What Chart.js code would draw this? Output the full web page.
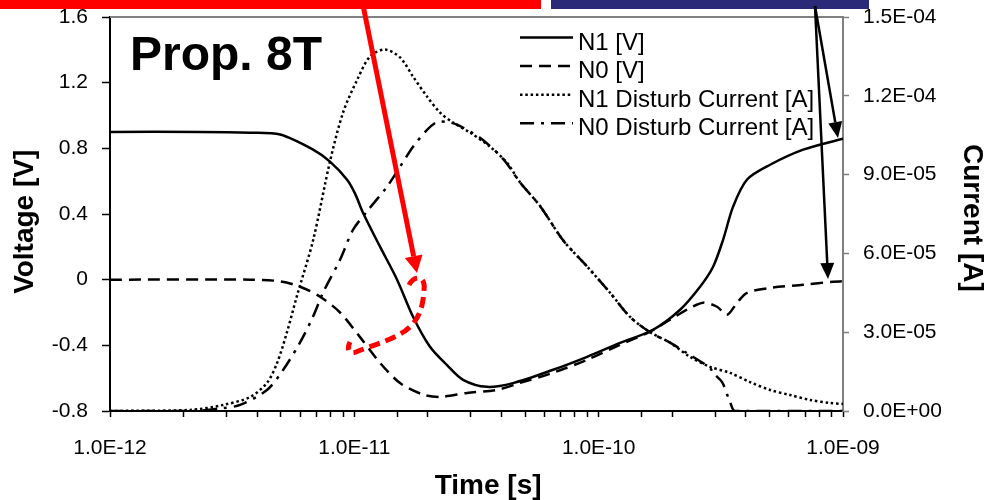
<!DOCTYPE html>
<html>
<head>
<meta charset="utf-8">
<script src="https://cdn.jsdelivr.net/npm/chart.js@4.4.1/dist/chart.umd.min.js"></script>
<style>
  html, body { margin: 0; padding: 0; background: #fff; }
  canvas { display: block; }
</style>
</head>
<body>
<canvas id="chart" width="986" height="500"></canvas>
<script>
// ---- data ----
const seriesLabels = ['N1 [V]', 'N0 [V]', 'N1 Disturb Current [A]', 'N0 Disturb Current [A]'];

const n1Time = [1e-12, 2.34e-12, 3.74e-12, 4.97e-12, 6.78e-12, 7.95e-12, 9.34e-12, 1.007e-11, 1.085e-11, 1.274e-11, 1.496e-11,
  1.739e-11, 2.04e-11, 2.396e-11, 2.786e-11, 3.49e-11, 4.46e-11, 6.51e-11, 8.97e-11, 1.224e-10, 1.67e-10,
  2.154e-10, 2.6e-10, 2.94e-10, 3.23e-10, 3.55e-10, 4.05e-10, 5.03e-10, 6.87e-10, 1e-9];
const n1Volt = [0.90, 0.90, 0.895, 0.884, 0.792, 0.719, 0.609, 0.524, 0.408, 0.201, 0.0,
  -0.226, -0.409, -0.521, -0.61, -0.653, -0.63, -0.549, -0.47, -0.385, -0.305,
  -0.183, -0.043, 0.079, 0.243, 0.445, 0.61, 0.70, 0.792, 0.859];

const n0Time = [1e-12, 3.74e-12, 4.97e-12, 6.0e-12, 7.24e-12, 8.74e-12, 1.055e-11, 1.274e-11, 1.539e-11, 1.911e-11,
  2.243e-11, 2.893e-11, 3.838e-11, 4.77e-11, 6.51e-11, 8.97e-11, 1.224e-10, 1.623e-10, 1.96e-10, 2.3e-10,
  2.676e-10, 3.052e-10, 3.354e-10, 3.686e-10, 4.05e-10, 5.03e-10, 6.87e-10, 9.11e-10, 1e-9];
const n0Volt = [0, 0, -0.01, -0.043, -0.104, -0.20, -0.35, -0.507, -0.63, -0.70,
  -0.714, -0.69, -0.671, -0.629, -0.567, -0.488, -0.397, -0.317, -0.244, -0.183,
  -0.14, -0.165, -0.214, -0.14, -0.08, -0.05, -0.031, -0.012, -0.01];

const n1CurTime = [1e-12, 2.13e-12, 2.9e-12, 3.74e-12, 4.39e-12, 4.83e-12, 5.3e-12, 5.83e-12, 6.78e-12, 7.95e-12,
  8.99e-12, 1.026e-11, 1.16e-11, 1.336e-11, 1.539e-11, 1.739e-11, 1.984e-11, 2.243e-11, 2.535e-11, 2.976e-11,
  3.594e-11, 4.217e-11, 4.77e-11, 5.76e-11, 7.15e-11, 8.97e-11, 1.114e-10, 1.345e-10, 1.623e-10, 1.96e-10,
  2.366e-10, 2.858e-10, 3.45e-10, 4.166e-10, 5.03e-10, 6.07e-10, 7.33e-10, 8.86e-10, 1e-9];
const n1Cur = [0, 0.4e-6, 2.3e-6, 5.3e-6, 1.07e-5, 1.83e-5, 3.0e-5, 4.4e-5, 6.5e-5, 9.5e-5,
  1.136e-4, 1.26e-4, 1.35e-4, 1.376e-4, 1.346e-4, 1.273e-4, 1.197e-4, 1.136e-4, 1.098e-4, 1.06e-4,
  1.006e-4, 9.45e-5, 8.7e-5, 7.8e-5, 6.5e-5, 5.5e-5, 4.5e-5, 3.58e-5, 3.0e-5, 2.6e-5,
  2.06e-5, 1.68e-5, 1.45e-5, 1.1e-5, 8.0e-6, 6.1e-6, 4.2e-6, 3.05e-6, 2.7e-6];

const n0CurTime = [1e-12, 2.2e-12, 2.9e-12, 3.405e-12, 4.39e-12, 5.11e-12, 5.99e-12, 6.78e-12, 7.44e-12, 8.74e-12,
  9.88e-12, 1.127e-11, 1.361e-11, 1.539e-11, 1.739e-11, 1.984e-11, 2.18e-11, 2.396e-11, 2.633e-11, 3.27e-11,
  4.06e-11, 4.77e-11, 5.76e-11, 7.15e-11, 8.97e-11, 1.114e-10, 1.345e-10, 1.623e-10, 1.96e-10, 2.3e-10,
  2.858e-10, 2.94e-10, 3.2e-10, 3.386e-10, 3.45e-10, 3.617e-10, 1e-9];
const n0Cur = [0, 0, 1.1e-6, 2.3e-6, 8.0e-6, 1.56e-5, 2.6e-5, 3.6e-5, 4.5e-5, 5.76e-5,
  6.9e-5, 7.6e-5, 8.54e-5, 9.3e-5, 1.006e-4, 1.07e-4, 1.1e-4, 1.1e-4, 1.09e-4, 1.04e-4,
  9.6e-5, 8.7e-5, 7.8e-5, 6.5e-5, 5.5e-5, 4.5e-5, 3.58e-5, 3.0e-5, 2.6e-5, 2.2e-5,
  1.64e-5, 1.45e-5, 1.1e-5, 5.3e-6, 3.4e-6, 0, 0];

const timeDecades = [1e-12, 1e-11, 1e-10, 1e-9];
const voltTicks = { min: -0.8, max: 1.6, step: 0.4 };
const curTicks = { min: 0, max: 1.5e-4, step: 3e-5 };

const FONT = '"Liberation Sans", Arial, Helvetica, sans-serif';
Chart.defaults.font.family = FONT;
Chart.defaults.color = '#000';

function pairs(xs, ys) {
  return xs.map((x, i) => ({ x: x, y: ys[i] }));
}

function sci(v) {
  if (Math.abs(v) < 1e-30) return '0.0E+00';
  const e = Math.floor(Math.log10(Math.abs(v)) + 1e-9);
  const m = v / Math.pow(10, e);
  return m.toFixed(1) + 'E' + (e < 0 ? '-' : '+') + String(Math.abs(e)).padStart(2, '0');
}

function isDecade(v) {
  return timeDecades.some(d => Math.abs(Math.log10(v) - Math.log10(d)) < 1e-6);
}

// y axes: no extra room for the end labels, the frame sits at a fixed place
function fixWidth(w) {
  return s => { s.width = w; s.paddingTop = 0; s.paddingBottom = 0; };
}

// legend, frame top line, slide overlays (arrows, bars, label)
const overlay = {
  id: 'overlay',
  afterDraw(chart) {
    const ctx = chart.ctx;
    const area = chart.chartArea;
    ctx.save();

    ctx.strokeStyle = '#808080';
    ctx.lineWidth = 2;
    ctx.beginPath();
    ctx.moveTo(area.left, area.top);
    ctx.lineTo(area.right, area.top);
    ctx.stroke();

    ctx.fillStyle = '#000';
    ctx.font = 'bold 48px ' + FONT;
    ctx.textBaseline = 'alphabetic';
    ctx.fillText('Prop. 8T', 130, 70);

    // legend
    ctx.font = '24px ' + FONT;
    chart.data.datasets.forEach((ds, i) => {
      const y = 37.5 + i * 28.6;
      ctx.strokeStyle = '#000';
      ctx.lineWidth = ds.borderWidth;
      ctx.lineCap = 'butt';
      ctx.setLineDash(ds.borderDash || []);
      ctx.beginPath();
      ctx.moveTo(520, y);
      ctx.lineTo(573, y);
      ctx.stroke();
      ctx.setLineDash([]);
      ctx.fillText(ds.label, 578, y + 12);
    });

    // top bars
    ctx.fillStyle = '#ff0000';
    ctx.fillRect(0, 0, 541, 9);
    ctx.fillStyle = '#2a2a78';
    ctx.fillRect(551, 0, 318, 9);

    function arrow(x1, y1, x2, y2, w, color, hl, hw) {
      const a = Math.atan2(y2 - y1, x2 - x1);
      const bx = x2 - hl * Math.cos(a), by = y2 - hl * Math.sin(a);
      ctx.strokeStyle = color;
      ctx.fillStyle = color;
      ctx.lineWidth = w;
      ctx.setLineDash([]);
      ctx.beginPath();
      ctx.moveTo(x1, y1);
      ctx.lineTo(bx, by);
      ctx.stroke();
      ctx.beginPath();
      ctx.moveTo(x2, y2);
      ctx.lineTo(bx + hw / 2 * Math.sin(a), by - hw / 2 * Math.cos(a));
      ctx.lineTo(bx - hw / 2 * Math.sin(a), by + hw / 2 * Math.cos(a));
      ctx.closePath();
      ctx.fill();
    }

    arrow(362, 0, 417, 273, 5, '#ff0000', 17, 18);
    arrow(815, 6, 838, 138, 2.5, '#000', 16, 14);
    arrow(815, 6, 828, 279, 2.5, '#000', 16, 14);

    // red dashed hook
    ctx.strokeStyle = '#ff0000';
    ctx.lineWidth = 5;
    ctx.setLineDash([11, 6]);
    ctx.beginPath();
    ctx.moveTo(409, 285);
    ctx.bezierCurveTo(414, 275, 426, 275, 424, 290);
    ctx.bezierCurveTo(423, 306, 420, 320, 405, 331);
    ctx.bezierCurveTo(390, 341, 370, 346, 356, 352);
    ctx.bezierCurveTo(348, 355, 347, 348, 350, 342);
    ctx.stroke();

    ctx.restore();
  }
};

new Chart(document.getElementById('chart'), {
  type: 'line',
  data: {
    datasets: [
      { label: seriesLabels[0], data: pairs(n1Time, n1Volt), yAxisID: 'y',
        borderColor: '#000', borderWidth: 2.5, borderDash: [] },
      { label: seriesLabels[1], data: pairs(n0Time, n0Volt), yAxisID: 'y',
        borderColor: '#000', borderWidth: 2.5, borderDash: [12, 7] },
      { label: seriesLabels[2], data: pairs(n1CurTime, n1Cur), yAxisID: 'y1',
        borderColor: '#000', borderWidth: 2.5, borderDash: [2.5, 2.8] },
      { label: seriesLabels[3], data: pairs(n0CurTime, n0Cur), yAxisID: 'y1',
        borderColor: '#000', borderWidth: 2.5, borderDash: [14, 7, 3, 7] }
    ]
  },
  options: {
    responsive: false,
    devicePixelRatio: 1,
    animation: false,
    layout: { padding: { top: 17, left: 0, right: 0, bottom: 0 } },
    elements: {
      point: { radius: 0, hitRadius: 0, hoverRadius: 0 },
      line: { tension: 0.3, fill: false, borderCapStyle: 'butt' }
    },
    plugins: { legend: { display: false }, tooltip: { enabled: false } },
    scales: {
      x: {
        type: 'logarithmic',
        position: 'bottom',
        min: timeDecades[0],
        max: timeDecades[timeDecades.length - 1],
        grid: { drawOnChartArea: false, drawTicks: true, tickLength: 6, color: '#000', tickWidth: 1.5 },
        border: { color: '#000', width: 2 },
        ticks: {
          autoSkip: false, maxRotation: 0, padding: 19,
          font: { size: 21 }, color: '#000',
          callback: v => isDecade(v) ? sci(v) : ''
        },
        title: { display: true, text: '   Time [s]', font: { size: 28, weight: 'bold', lineHeight: 1 },
          padding: { top: 0, bottom: 0 }, color: '#000' },
        afterFit: s => { s.height = 89; }
      },
      y: {
        position: 'left',
        min: voltTicks.min, max: voltTicks.max,
        grid: { drawOnChartArea: false, drawTicks: true, tickLength: 8, color: '#000', tickWidth: 1.5 },
        border: { color: '#000', width: 2 },
        ticks: {
          stepSize: voltTicks.step, padding: 14, font: { size: 21 }, color: '#000',
          callback: v => Math.abs(v) < 1e-9 ? '0' : v.toFixed(1)
        },
        title: { display: true, text: 'Voltage [V]  ', font: { size: 28, weight: 'bold', lineHeight: 1 },
          padding: { top: 11, bottom: 0 }, color: '#000' },
        afterFit: fixWidth(110)
      },
      y1: {
        position: 'right',
        min: curTicks.min, max: curTicks.max,
        grid: { drawOnChartArea: false, drawTicks: true, tickLength: 6, color: '#808080', tickWidth: 1.5 },
        border: { color: '#808080', width: 2 },
        ticks: {
          stepSize: curTicks.step, padding: 14, font: { size: 21 }, color: '#000',
          callback: v => sci(v)
        },
        title: { display: true, text: ' Current [A]', font: { size: 28, weight: 'bold', lineHeight: 1 },
          padding: { top: 0, bottom: 0 }, color: '#000' },
        afterFit: fixWidth(143)
      }
    }
  },
  plugins: [overlay]
});
</script>
</body>
</html>
